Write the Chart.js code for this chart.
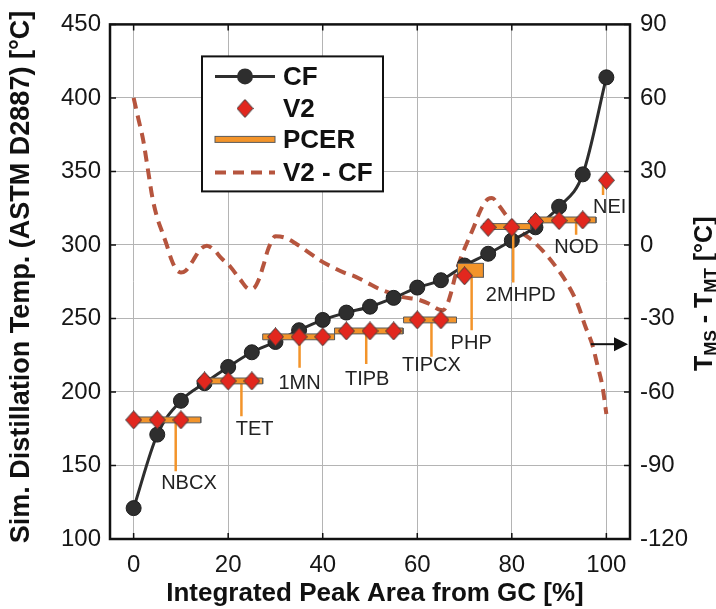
<!DOCTYPE html>
<html>
<head>
<meta charset="utf-8">
<script src="https://cdn.jsdelivr.net/npm/chart.js@4.4.0/dist/chart.umd.min.js"></script>
<style>
  html, body { margin: 0; padding: 0; background: #fff; }
</style>
</head>
<body>
<canvas id="chart" width="716" height="609"></canvas>
<script>
// CF vs V2 distillation temperatures, PCER compound ranges and the V2 - CF difference
const peakArea = [0, 5, 10, 15, 20, 25, 30, 35, 40, 45, 50, 55, 60, 65, 70, 75, 80, 85, 90, 95, 100];
const cfTemp = [121, 171, 194, 206, 217, 227, 234, 242, 249, 254, 258, 264, 271, 276, 286, 294, 303, 312, 326, 348, 414];
const v2Temp = [181, 181, 181, 207.5, 207.5, 207.5, 237.5, 237.5, 237.5, 241.5, 241.5, 241.5, 249, 249, 279, 312, 312, 316, 316.5, 317, 344];

const diffPct = [0, 1, 2, 3, 4, 5, 6, 7, 8, 9, 10, 11, 12, 13, 14, 15.5, 17, 18.5, 20.5, 22.5, 24.5, 25.5, 26.5, 27.5, 28.5,
  30, 32, 34.5, 37, 39.5, 42, 44.5, 47, 49.5, 52, 54.5, 57, 60, 62.5, 64.5, 65.5, 66.3, 67, 68, 69, 70, 71, 72, 73, 74,
  75, 75.8, 77.2, 79.3, 81.4, 83.9, 86.7, 89.6, 91.8, 93.9, 95.6, 97, 98.1, 99.2, 100];
const diffTemp = [60, 51.5, 43, 31, 19, 11, 5.5, 0, -6, -10, -11.2, -10.5, -8, -5, -2, -0.3, -2, -5.3, -9, -14, -18, -17.5, -14, -8, -1.5,
  3.5, 3, 0.3, -3, -6.4, -9, -11.3, -13, -15.5, -18, -19.8, -21.3, -22.2, -24, -26.3, -26.6, -24.5, -20.5, -13, -6.5, -1.5, 3, 7.5, 12.5, 16.5,
  18.8, 19.2, 16.3, 10.8, 6.1, 2.5, -2.7, -9.6, -16, -24, -33.5, -40.5, -49, -58, -69];

// PCER compounds: peak-area range, temperature band, leader line and label anchor
const pcerNames = ['NBCX', 'TET', '1MN', 'TIPB', 'TIPCX', 'PHP', '2MHPD', 'NOD', 'NEI'];
const pcerStart = [0, 14.2, 27.3, 42.5, 57.1, 68.5, 74, 84, 99.4];
const pcerEnd = [14.2, 27.3, 42.5, 57, 68.3, 74, 84, 97.8, 100.2];
const pcerLow = [179, 205.5, 235.5, 239.5, 247, 278, 310.5, 315, 342];
const pcerHigh = [183, 209.5, 239.5, 243.5, 251, 287.5, 314.5, 319, 346];
const leaderX = [8.9, 22.8, 35.1, 49.2, 63, 71.5, 80.3, 93.6, 99.3];
const leaderEnd = [146, 183.5, 216.5, 219, 224, 242, 274.5, 307, 334];
const labelX = [11.7, 25.6, 35.1, 49.4, 63, 71.4, 81.9, 93.7, 100.7];
const labelY = [137.5, 174.8, 206, 208.6, 218, 232.8, 265.5, 298.6, 325.6];

const xTicks = [0, 20, 40, 60, 80, 100];
const tempTicks = [100, 150, 200, 250, 300, 350, 400, 450];
const diffTicks = [-120, -90, -60, -30, 0, 30, 60, 90];

const FONT = "'Liberation Sans', Arial, Helvetica, sans-serif";
const ORANGE = '#f3942a';
const RED = '#e2271e';
const DASH = '#b6553e';
const DARK = '#2e2e2e';
const GRID = '#b4b4b4';

Chart.defaults.font.family = FONT;
Chart.defaults.color = '#161616';

function diamondImage(w, h) {
  const c = document.createElement('canvas');
  c.width = w; c.height = h;
  const g = c.getContext('2d');
  g.beginPath();
  g.moveTo(w / 2, 0.5);
  g.lineTo(w - 0.5, h / 2);
  g.lineTo(w / 2, h - 0.5);
  g.lineTo(0.5, h / 2);
  g.closePath();
  g.fillStyle = RED;
  g.fill();
  g.strokeStyle = '#3a3a3a';
  g.lineWidth = 1;
  g.stroke();
  return c;
}
const diamond = diamondImage(17, 19);

const datasets = [];

datasets.push({
  label: 'V2',
  data: peakArea.map((x, i) => ({ x: x, y: v2Temp[i] })),
  showLine: false,
  pointStyle: diamond,
  pointRadius: 9,
  order: 0
});

pcerNames.forEach((name, i) => {
  datasets.push({
    label: 'PCER ' + name,
    data: [
      { x: pcerStart[i], y: pcerLow[i] },
      { x: pcerStart[i], y: pcerHigh[i] },
      { x: pcerEnd[i], y: pcerHigh[i] },
      { x: pcerEnd[i], y: pcerLow[i] },
      { x: pcerStart[i], y: pcerLow[i] }
    ],
    borderColor: '#5a5a5a',
    borderWidth: 1,
    backgroundColor: ORANGE,
    fill: 'shape',
    pointRadius: 0,
    tension: 0,
    order: 1
  });
  datasets.push({
    label: 'leader ' + name,
    data: [
      { x: leaderX[i], y: (pcerLow[i] + pcerHigh[i]) / 2 },
      { x: leaderX[i], y: leaderEnd[i] }
    ],
    borderColor: ORANGE,
    borderWidth: 2.5,
    pointRadius: 0,
    order: 2
  });
});

datasets.push({
  label: 'CF',
  data: peakArea.map((x, i) => ({ x: x, y: cfTemp[i] })),
  borderColor: DARK,
  borderWidth: 3,
  backgroundColor: DARK,
  pointBorderColor: '#1e1e1e',
  pointBorderWidth: 1,
  pointRadius: 7.5,
  cubicInterpolationMode: 'monotone',
  order: 3
});

datasets.push({
  label: 'V2 - CF',
  data: diffPct.map((x, i) => ({ x: x, y: diffTemp[i] })),
  yAxisID: 'y2',
  borderColor: DASH,
  borderWidth: 4,
  borderDash: [11, 7],
  pointRadius: 0,
  cubicInterpolationMode: 'monotone',
  order: 4
});

const framePlugin = {
  id: 'frame',
  afterDatasetsDraw(chart) {
    const { ctx, chartArea: a, scales } = chart;
    ctx.save();

    // inward tick marks
    ctx.strokeStyle = '#111';
    ctx.lineWidth = 1.5;
    ctx.beginPath();
    xTicks.forEach(v => {
      const px = scales.x.getPixelForValue(v);
      ctx.moveTo(px, a.bottom); ctx.lineTo(px, a.bottom - 6);
      ctx.moveTo(px, a.top); ctx.lineTo(px, a.top + 6);
    });
    tempTicks.forEach(v => {
      const py = scales.y.getPixelForValue(v);
      ctx.moveTo(a.left, py); ctx.lineTo(a.left + 6, py);
    });
    diffTicks.forEach(v => {
      const py = scales.y2.getPixelForValue(v);
      ctx.moveTo(a.right, py); ctx.lineTo(a.right - 6, py);
    });
    ctx.stroke();

    // axes box
    ctx.lineWidth = 2.5;
    ctx.strokeStyle = '#111';
    ctx.strokeRect(a.left, a.top, a.right - a.left, a.bottom - a.top);

    // compound labels
    ctx.font = '20px ' + FONT;
    ctx.fillStyle = '#222';
    ctx.textAlign = 'center';
    ctx.textBaseline = 'middle';
    pcerNames.forEach((name, i) => {
      ctx.fillText(name, scales.x.getPixelForValue(labelX[i]), scales.y.getPixelForValue(labelY[i]));
    });

    // arrow pointing to the right axis
    const ay = scales.y2.getPixelForValue(-40.5);
    const ax0 = scales.x.getPixelForValue(96.7);
    const ax1 = a.right - 2;
    ctx.strokeStyle = '#111';
    ctx.fillStyle = '#111';
    ctx.lineWidth = 2;
    ctx.beginPath();
    ctx.moveTo(ax0, ay); ctx.lineTo(ax1 - 10, ay);
    ctx.stroke();
    ctx.beginPath();
    ctx.moveTo(ax1, ay);
    ctx.lineTo(ax1 - 14, ay - 7);
    ctx.lineTo(ax1 - 14, ay + 7);
    ctx.closePath();
    ctx.fill();

    // legend
    const bx = a.left + 92, by = a.top + 32, bw = 181, bh = 135;
    ctx.fillStyle = '#fff';
    ctx.fillRect(bx, by, bw, bh);
    ctx.lineWidth = 2;
    ctx.strokeStyle = '#111';
    ctx.strokeRect(bx, by, bw, bh);
    const rows = [20, 52, 83, 116].map(r => by + r);
    const x0 = bx + 13, x1 = bx + 73, xm = bx + 43;

    ctx.strokeStyle = DARK;
    ctx.lineWidth = 3;
    ctx.beginPath(); ctx.moveTo(x0, rows[0]); ctx.lineTo(x1, rows[0]); ctx.stroke();
    ctx.fillStyle = DARK;
    ctx.beginPath(); ctx.arc(xm, rows[0], 8, 0, Math.PI * 2); ctx.fill();

    ctx.drawImage(diamond, xm - diamond.width / 2, rows[1] - diamond.height / 2);

    ctx.fillStyle = ORANGE;
    ctx.fillRect(x0, rows[2] - 3, x1 - x0, 6);
    ctx.strokeStyle = '#5a5a5a';
    ctx.lineWidth = 1;
    ctx.strokeRect(x0, rows[2] - 3, x1 - x0, 6);

    ctx.strokeStyle = DASH;
    ctx.lineWidth = 4;
    ctx.setLineDash([11, 7]);
    ctx.beginPath(); ctx.moveTo(x0, rows[3]); ctx.lineTo(x1, rows[3]); ctx.stroke();
    ctx.setLineDash([]);

    ctx.fillStyle = '#111';
    ctx.font = 'bold 26px ' + FONT;
    ctx.textAlign = 'left';
    ['CF', 'V2', 'PCER', 'V2 - CF'].forEach((t, i) => ctx.fillText(t, bx + 81, rows[i] + 1));

    ctx.restore();
  },
  afterDraw(chart) {
    const { ctx, chartArea: a } = chart;
    ctx.save();
    ctx.fillStyle = '#111';

    // x axis title
    ctx.font = 'bold 26px ' + FONT;
    ctx.textAlign = 'center';
    ctx.textBaseline = 'middle';
    ctx.fillText('Integrated Peak Area from GC [%]', 375, 594);

    // left axis title
    ctx.save();
    ctx.translate(22, 277);
    ctx.rotate(-Math.PI / 2);
    ctx.font = 'bold 27px ' + FONT;
    ctx.fillText('Sim. Distillation Temp. (ASTM D2887) [°C]', 0, 0);
    ctx.restore();

    // right axis title with subscripts
    ctx.save();
    ctx.translate(712, 371);
    ctx.rotate(-Math.PI / 2);
    ctx.textAlign = 'left';
    ctx.textBaseline = 'alphabetic';
    const parts = [['T', 0], ['MS', 1], [' - T', 0], ['MT', 1], [' [°C]', 0]];
    let cx = 0;
    parts.forEach(([t, sub]) => {
      ctx.font = sub ? 'bold 17px ' + FONT : 'bold 25px ' + FONT;
      ctx.fillText(t, cx, sub ? 4 : 0);
      cx += ctx.measureText(t).width;
    });
    ctx.restore();

    ctx.restore();
  }
};

new Chart(document.getElementById('chart'), {
  type: 'line',
  data: { datasets: datasets },
  options: {
    responsive: false,
    animation: false,
    layout: { padding: { top: 20 } },
    plugins: {
      legend: { display: false },
      tooltip: { enabled: false }
    },
    scales: {
      x: {
        type: 'linear',
        min: -5,
        max: 105,
        afterBuildTicks: s => { s.ticks = xTicks.map(v => ({ value: v })); },
        afterFit: s => { s.height = 70; },
        grid: { color: GRID, drawTicks: false },
        border: { display: false },
        ticks: { font: { size: 24 }, padding: 12, maxRotation: 0 }
      },
      y: {
        type: 'linear',
        position: 'left',
        min: 100,
        max: 450,
        afterBuildTicks: s => { s.ticks = tempTicks.map(v => ({ value: v })); },
        afterFit: s => { s.width = 110; },
        grid: { color: GRID, drawTicks: false },
        border: { display: false },
        ticks: { font: { size: 24 }, padding: 9 }
      },
      y2: {
        type: 'linear',
        position: 'right',
        min: -120,
        max: 90,
        afterBuildTicks: s => { s.ticks = diffTicks.map(v => ({ value: v })); },
        afterFit: s => { s.width = 86; },
        grid: { drawOnChartArea: false, drawTicks: false },
        border: { display: false },
        ticks: { font: { size: 24 }, padding: 10 }
      }
    }
  },
  plugins: [framePlugin]
});
</script>
</body>
</html>
